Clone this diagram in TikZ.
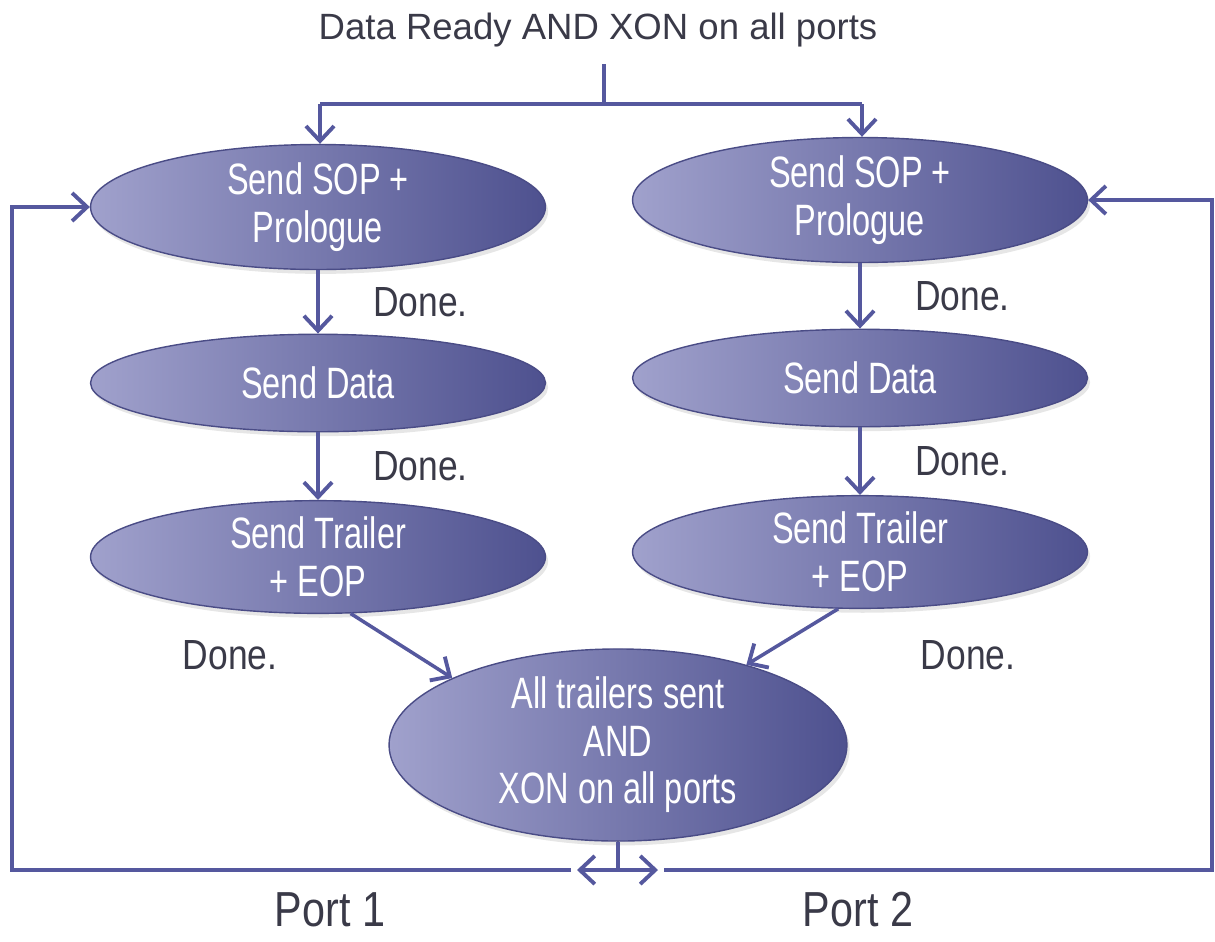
\documentclass[tikz,border=0pt]{standalone}
\usepackage{fontspec}
\setmainfont{Liberation Sans}
\newfontfamily\ellfont{Liberation Sans}[FakeStretch=0.74]
\newfontfamily\narrowfont{Liberation Sans}[FakeStretch=0.84]
\usetikzlibrary{shapes,arrows.meta,positioning,calc,shadows}
\definecolor{EllLight}{RGB}{160, 161, 204}
\definecolor{EllDark}{RGB}{78, 81, 143}
\definecolor{EllEdge}{RGB}{74, 76, 134}
\definecolor{LinkBlue}{RGB}{85, 88, 158}
\definecolor{LabelGray}{RGB}{58, 58, 72}

\tikzset{
  state/.style={ellipse, draw=EllEdge, line width=0.8pt, left color=EllLight, right color=EllDark,
    minimum width=9.1cm, minimum height=1.95cm, inner sep=0pt, align=center, text=white,
    font=\ellfont\fontsize{25}{27}\selectfont,
    drop shadow={opacity=0.2, shadow xshift=1.5pt, shadow yshift=-2.5pt}},
  link/.style={draw=LinkBlue, line width=2pt, -{Straight Barb[length=8.5pt,width=16pt,line width=2.2pt]}},
  wire/.style={draw=LinkBlue, line width=2pt},
  done/.style={text=LabelGray, font=\narrowfont\fontsize{24}{26}\selectfont},
  port/.style={text=LabelGray, font=\narrowfont\fontsize{28}{30}\selectfont}
}

\begin{document}
\begin{tikzpicture}[x=0.02cm, y=-0.02cm]
  \useasboundingbox (0,0) rectangle (1215,941);

  % trigger
  \node[text=LabelGray, font=\fontsize{20.8}{23}\selectfont] (trigger) at (598,30) {Data Ready AND XON on all ports};
  \coordinate (fork) at (604,104);
  \coordinate (forkL) at (320,104);
  \coordinate (forkR) at (862,104);

  % port 1 states
  \node[state] (sop1) at (318,207) {Send SOP +\\Prologue};
  \node[state] (data1) at (318,383) {Send Data};
  \node[state] (trl1) at (318,557) {Send Trailer\\+ EOP};

  % port 2 states
  \node[state] (sop2) at (860,200) {Send SOP +\\Prologue};
  \node[state] (data2) at (860,378) {Send Data};
  \node[state] (trl2) at (860,552) {Send Trailer\\+ EOP};

  % join
  \node[state, minimum width=9.16cm, minimum height=3.45cm] (join) at (618,745) {All trailers sent\\AND\\XON on all ports};

  % fork from trigger
  \draw[wire] (604,64) -- (fork);
  \draw[wire] (forkL) -- (forkR);
  \draw[link] (forkL) -- (sop1.north -| forkL);
  \draw[link] (forkR) -- (sop2.north -| forkR);

  % port 1 flow
  \draw[link] (sop1) -- (data1) node[done, midway, right=27pt] (done1a) {Done.};
  \draw[link] (data1) -- (trl1) node[done, midway, right=27pt] (done1b) {Done.};
  \draw[link] (trl1.-60) -- (join.158);
  \node[done] (done1c) at (230,655) {Done.};

  % port 2 flow
  \draw[link] (sop2) -- (data2) node[done, midway, right=27pt] (done2a) {Done.};
  \draw[link] (data2) -- (trl2) node[done, midway, right=27pt] (done2b) {Done.};
  \draw[link] (trl2.-111) -- (join.32);
  \node[done] (done2c) at (968,655) {Done.};

  % loop back
  \coordinate (split) at (618,870);
  \coordinate (backL) at (571,870);
  \coordinate (backR) at (664,870);
  \draw[wire] (join.south) -- (split);
  \draw[link] (split) -- (577,870);
  \draw[link] (split) -- (658,870);
  \draw[link] (backL) -| (12,300) |- (sop1.west);
  \draw[link] (backR) -| (1212,300) |- (sop2.east);

  \node[port] (port1) at (330,910) {Port 1};
  \node[port] (port2) at (858,910) {Port 2};
\end{tikzpicture}
\end{document}
